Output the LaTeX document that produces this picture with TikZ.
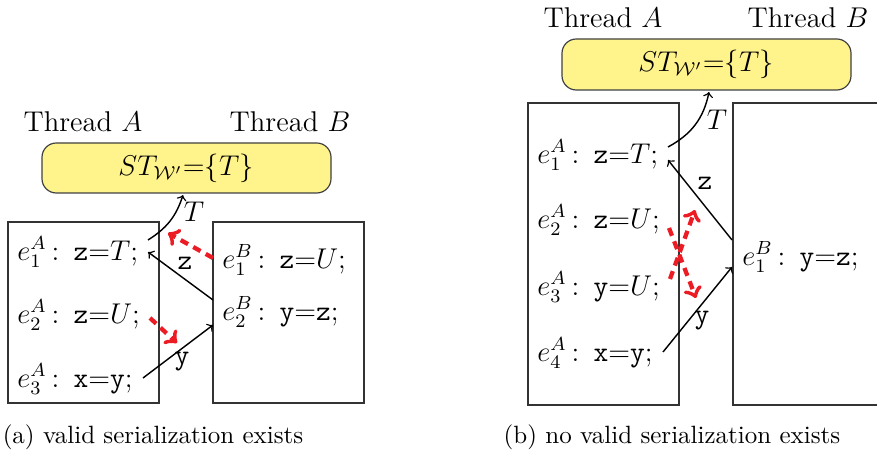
\documentclass[tikz,border=0pt]{standalone}
\usetikzlibrary{arrows}
\definecolor{boxyellow}{RGB}{255,243,140}
\definecolor{dashred}{RGB}{236,28,36}
\newcommand{\ev}[2]{$e_{#1}^{#2}$\,:\enskip}
\begin{document}
\begin{tikzpicture}[x=0.42pt,y=-0.42pt,
  thr/.style={draw=black!80,line width=0.5pt},
  stbox/.style={draw=black!75,fill=boxyellow,rounded corners=6pt,line width=0.5pt},
  lbl/.style={font=\fontsize{12}{14}\selectfont,inner sep=0pt},
  code/.style={font=\fontsize{12}{14}\selectfont,inner sep=0pt,anchor=west},
  captext/.style={font=\fontsize{10.5}{12}\selectfont,inner sep=0pt},
  flow/.style={->,>=to,line width=0.6pt},
  conf/.style={->,>=to,draw=dashred,line width=1.8pt,dash pattern=on 3.5pt off 2.5pt}]
\useasboundingbox (0,0) rectangle (877,450);
% ---------- (a) ----------
\node[lbl] (thA1) at (83,122) {Thread $A$};
\node[lbl] (thB1) at (290,122) {Thread $B$};
\draw[stbox] (42,143) rectangle (331,193);
\node[lbl] (st1) at (186,168) {$ST_{\mathcal{W}'}$=$\{T\}$};
\draw[thr] (8,222) rectangle (159,403);
\draw[thr] (213,222) rectangle (364,403);
\node[code] (a1) at (17,252) {\ev{1}{A}\texttt{z}=$T$;};
\node[code] (a2) at (17,315) {\ev{2}{A}\texttt{z}=$U$;};
\node[code] (a3) at (17,379) {\ev{3}{A}\texttt{x}=\texttt{y};};
\node[code] (b1) at (222,260) {\ev{1}{B}\texttt{z}=$U$;};
\node[code] (b2) at (222,312) {\ev{2}{B}\texttt{y}=\texttt{z};};
\coordinate (tS1) at (148,240);
\coordinate (tE1) at (183,195);
\coordinate (zS1) at (213,300);
\coordinate (zE1) at (148,252);
\coordinate (yS1) at (143,378);
\coordinate (yE1) at (213,325);
\coordinate (rS1) at (213,258);
\coordinate (rE1) at (168,233);
\coordinate (rS2) at (150,318);
\coordinate (rE2) at (177,343);
\node[lbl] (lt1) at (194,212) {$T$};
\node[lbl] (lz1) at (185,263) {\texttt{z}};
\node[lbl] (ly1) at (182,362) {\texttt{y}};
\draw[flow] (tS1) to[bend right=20] (tE1);
\draw[flow] (zS1) -- (zE1);
\draw[flow] (yS1) -- (yE1);
\draw[conf] (rS1) -- (rE1);
\draw[conf] (rS2) -- (rE2);
\node[captext] (capa) at (153,437) {(a) valid serialization exists};
% ---------- (b) ----------
\node[lbl] (thA2) at (603,18) {Thread $A$};
\node[lbl] (thB2) at (808,18) {Thread $B$};
\draw[stbox] (562,39) rectangle (851,90);
\node[lbl] (st2) at (706,64) {$ST_{\mathcal{W}'}$=$\{T\}$};
\draw[thr] (528,103) rectangle (679,405);
\draw[thr] (733,103) rectangle (884,405);
\node[code] (c1) at (537,155) {\ev{1}{A}\texttt{z}=$T$;};
\node[code] (c2) at (537,220) {\ev{2}{A}\texttt{z}=$U$;};
\node[code] (c3) at (537,287) {\ev{3}{A}\texttt{y}=$U$;};
\node[code] (c4) at (537,353) {\ev{4}{A}\texttt{x}=\texttt{y};};
\node[code] (d1) at (742,257) {\ev{1}{B}\texttt{y}=\texttt{z};};
\coordinate (tS2) at (668,147);
\coordinate (tE2) at (709,92);
\coordinate (zS2) at (732,240);
\coordinate (zE2) at (668,160);
\coordinate (yS2) at (663,352);
\coordinate (yE2) at (732,267);
\coordinate (rS3) at (669,228);
\coordinate (rE3) at (696,298);
\coordinate (rS4) at (670,279);
\coordinate (rE4) at (695,210);
\node[lbl] (lt2) at (717,120) {$T$};
\node[lbl] (lz2) at (705,183) {\texttt{z}};
\node[lbl] (ly2) at (702,321) {\texttt{y}};
\draw[flow] (tS2) to[bend right=25] (tE2);
\draw[flow] (zS2) -- (zE2);
\draw[flow] (yS2) -- (yE2);
\draw[conf] (rS3) -- (rE3);
\draw[conf] (rS4) -- (rE4);
\node[captext] (capb) at (672,437) {(b) no valid serialization exists};
\end{tikzpicture}
\end{document}
